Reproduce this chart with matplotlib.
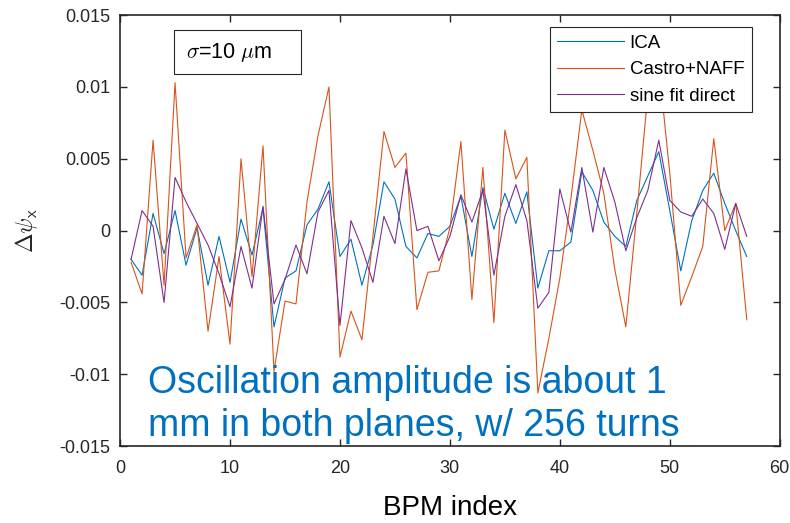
import matplotlib.pyplot as plt
from matplotlib.patches import Rectangle

plt.rcParams['font.family'] = ['Liberation Sans', 'DejaVu Sans']
plt.rcParams['mathtext.fontset'] = 'cm'

# BPM index and phase advance differences
bpm = list(range(1, 58))
ica = [-0.0020, -0.0031, 0.0012, -0.0016, 0.0014, -0.0024, 0.0002, -0.0038, -0.0004, -0.0036,
       0.0008, -0.0017, 0.0016, -0.0067, -0.0033, -0.0028, 0.0004, 0.0015, 0.0034, -0.0018,
       -0.0006, -0.0038, -0.0010, 0.0034, 0.0022, -0.0011, -0.0019, -0.0002, -0.0004, 0.0003,
       0.0024, -0.0018, 0.0030, 0.0001, 0.0026, 0.0005, 0.0027, -0.0040, -0.0014, -0.0014,
       -0.0008, 0.0041, 0.0028, 0.0006, -0.0004, -0.0011, 0.0021, 0.0038, 0.0055, 0.0014,
       -0.0028, 0.0007, 0.0028, 0.0040, 0.0019, 0.0000, -0.0018]
castro_naff = [-0.0022, -0.0044, 0.0063, -0.0038, 0.0103, -0.0019, 0.0004, -0.0070, -0.0018, -0.0079,
               0.0050, -0.0032, 0.0059, -0.0098, -0.0049, -0.0051, 0.0020, 0.0066, 0.0100, -0.0088,
               -0.0056, -0.0076, -0.0004, 0.0069, 0.0044, 0.0054, -0.0055, -0.0029, -0.0028, 0.0002,
               0.0062, -0.0048, 0.0044, -0.0064, 0.0070, 0.0036, 0.0051, -0.0113, -0.0075, -0.0033,
               0.0022, 0.0084, 0.0056, 0.0026, -0.0027, -0.0067, 0.0012, 0.0095, 0.0115, 0.0040,
               -0.0052, -0.0032, -0.0011, 0.0064, 0.0000, 0.0019, -0.0062]
sine_fit = [-0.0020, 0.0014, 0.0003, -0.0050, 0.0037, 0.0020, 0.0005, -0.0010, -0.0030, -0.0053,
            -0.0011, -0.0040, 0.0017, -0.0051, -0.0034, -0.0010, -0.0030, 0.0013, 0.0028, -0.0066,
            0.0007, -0.0012, -0.0036, 0.0010, -0.0009, 0.0043, 0.0000, 0.0003, -0.0021, -0.0004,
            0.0025, 0.0006, 0.0028, -0.0031, 0.0010, 0.0032, 0.0007, -0.0054, -0.0043, 0.0029,
            -0.0001, 0.0044, -0.0001, 0.0044, 0.0020, -0.0014, 0.0009, 0.0028, 0.0063, 0.0021,
            0.0013, 0.0010, 0.0022, 0.0012, -0.0013, 0.0019, -0.0004]

xticks = [0, 10, 20, 30, 40, 50, 60]
yticks = [-0.015, -0.01, -0.005, 0, 0.005, 0.01, 0.015]
yticklabels = ['-0.015', '-0.01', '-0.005', '0', '0.005', '0.01', '0.015']

fig = plt.figure(figsize=(7.9, 5.23), dpi=100)
ax = fig.add_axes([0.152, 0.147, 0.835, 0.824])

ax.plot(bpm, ica, color='#0072BD', lw=0.8, label='ICA')
ax.plot(bpm, castro_naff, color='#D95319', lw=0.8, label='Castro+NAFF')
ax.plot(bpm, sine_fit, color='#7E2F8E', lw=0.8, label='sine fit direct')

ax.set_xlim(0, 60)
ax.set_ylim(-0.015, 0.015)
ax.set_xticks(xticks)
ax.set_yticks(yticks)
ax.set_yticklabels(yticklabels)
ax.tick_params(direction='in', top=True, right=True, length=5, width=1.0,
               labelsize=13, colors='#262626', labelcolor='#262626')
ax.tick_params(axis='x', pad=10)
ax.tick_params(axis='y', pad=7)
for s in ax.spines.values():
    s.set_linewidth(1.2)
    s.set_color('#262626')

ax.set_xlabel('BPM index', fontsize=20, labelpad=13)
ax.set_ylabel(r'$\Delta\psi_{\mathsf{x}}$', fontsize=17, labelpad=14, color='#262626')

leg = ax.legend(loc='upper right', bbox_to_anchor=(0.9576, 0.972), fontsize=13.5,
                frameon=True, fancybox=False, edgecolor='#262626', framealpha=1,
                handlelength=3.55, handletextpad=0.3, labelspacing=0.5,
                borderpad=0.4, borderaxespad=0)
leg.get_frame().set_linewidth(0.8)

# sigma annotation box
ax.add_patch(Rectangle((0.0818, 0.863), 0.192, 0.102, transform=ax.transAxes,
                       facecolor='white', edgecolor='#262626', lw=0.8, zorder=5))
ax.text(0.1, 0.914, r'$\sigma$=10 $\mu$m', transform=ax.transAxes, fontsize=15.5,
        va='center', ha='left', zorder=6)

fig.text(148 / 790, 1 - 365 / 523,
         'Oscillation amplitude is about 1\nmm in both planes, w/ 256 turns',
         color='#0070C0', fontsize=27, ha='left', va='top', linespacing=1.26)

fig.savefig('out.png', dpi=100)
